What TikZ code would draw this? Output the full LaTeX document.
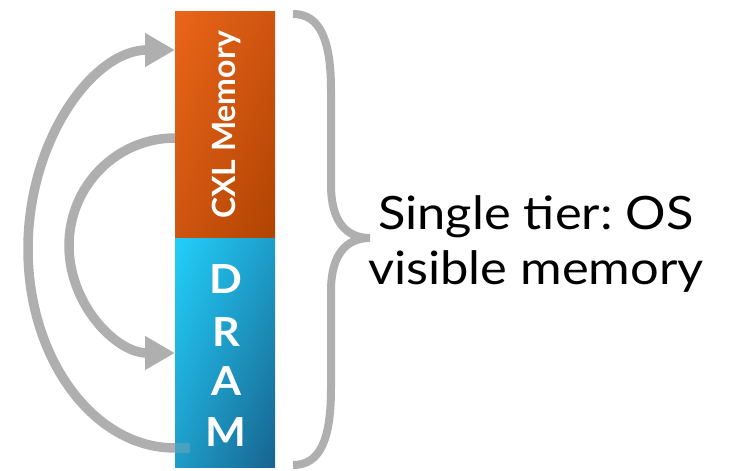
\documentclass[tikz,border=0pt]{standalone}
\usepackage{fontspec}
\setmainfont{Lato}
\newfontfamily\capfont[FakeStretch=1.1]{Lato}
\newfontfamily\barfont[FakeStretch=1.08]{Lato}
\usetikzlibrary{arrows.meta,shadings}
\frenchspacing
\definecolor{arrowgray}{HTML}{AFAFAF}
\definecolor{cxlA}{HTML}{EA6519}
\definecolor{cxlM}{HTML}{CE5510}
\definecolor{cxlB}{HTML}{B04300}
\definecolor{dramA}{HTML}{22CFFA}
\definecolor{dramM}{HTML}{1E9CC8}
\definecolor{dramB}{HTML}{17638E}
\tikzset{
  flow/.style={draw=arrowgray, line width=9.5pt, -{Triangle[length=30pt,width=32pt]}},
  bracestyle/.style={draw=arrowgray, line width=8pt},
  bartext/.style={text=white},
  dramletter/.style={bartext, font=\barfont\fontsize{40}{44}\selectfont\bfseries},
  caption/.style={anchor=base, font=\capfont\fontsize{46}{52}\selectfont, inner sep=0pt}
}
\begin{document}
\begin{tikzpicture}[x=1pt,y=1pt]
\useasboundingbox (0,0) rectangle (731,471);
% arrows (drawn below the bars)
\coordinate (oStart) at (190,23);
\draw[flow] (oStart) -- (175,23) arc[start angle=-90, end angle=-270, x radius=147, y radius=199] coordinate (oEnd);
\coordinate (iStart) at (180,333);
\draw[flow] (iStart) -- (175,333) arc[start angle=90, end angle=270, x radius=106, y radius=107.5] coordinate (iEnd);
% bars
\shade[upper left=cxlA, upper right=cxlM, lower left=cxlM, lower right=cxlB] (175,232) rectangle (275,459);
\node[draw=none, minimum width=100pt, minimum height=227pt, inner sep=0pt] (cxl) at (225,345.5) {};
\shade[upper left=dramA, upper right=dramM, lower left=dramM, lower right=dramB] (175,3) rectangle (275,232);
\node[draw=none, minimum width=100pt, minimum height=229pt, inner sep=0pt] (dram) at (225,117.5) {};
% translucent end of outer arrow over the bar
\fill[arrowgray, opacity=0.3] (175,18) rectangle (190,28);
% bar texts
\node[bartext, rotate=90, font=\fontsize{32}{36}\selectfont\bfseries] (cxltext) at (226,346) {CXL Memory};
\node[dramletter] (d1) at (226,192) {D};
\node[dramletter] (d2) at (226,139) {R};
\node[dramletter] (d3) at (226,90) {A};
\node[dramletter] (d4) at (226,39) {M};
% brace
\draw[bracestyle] (293,457) .. controls (320,457) and (331,431) .. (331,381) -- (331,286)
  .. controls (331,251) and (345,233) .. (370,233)
  .. controls (345,233) and (331,215) .. (331,180) -- (331,83)
  .. controls (331,31) and (320,6) .. (293,6);
% caption
\node[caption] (t1) at (536,241) {Single tier: OS};
\node[caption] (t2) at (536,186) {visible memory};
\end{tikzpicture}
\end{document}
